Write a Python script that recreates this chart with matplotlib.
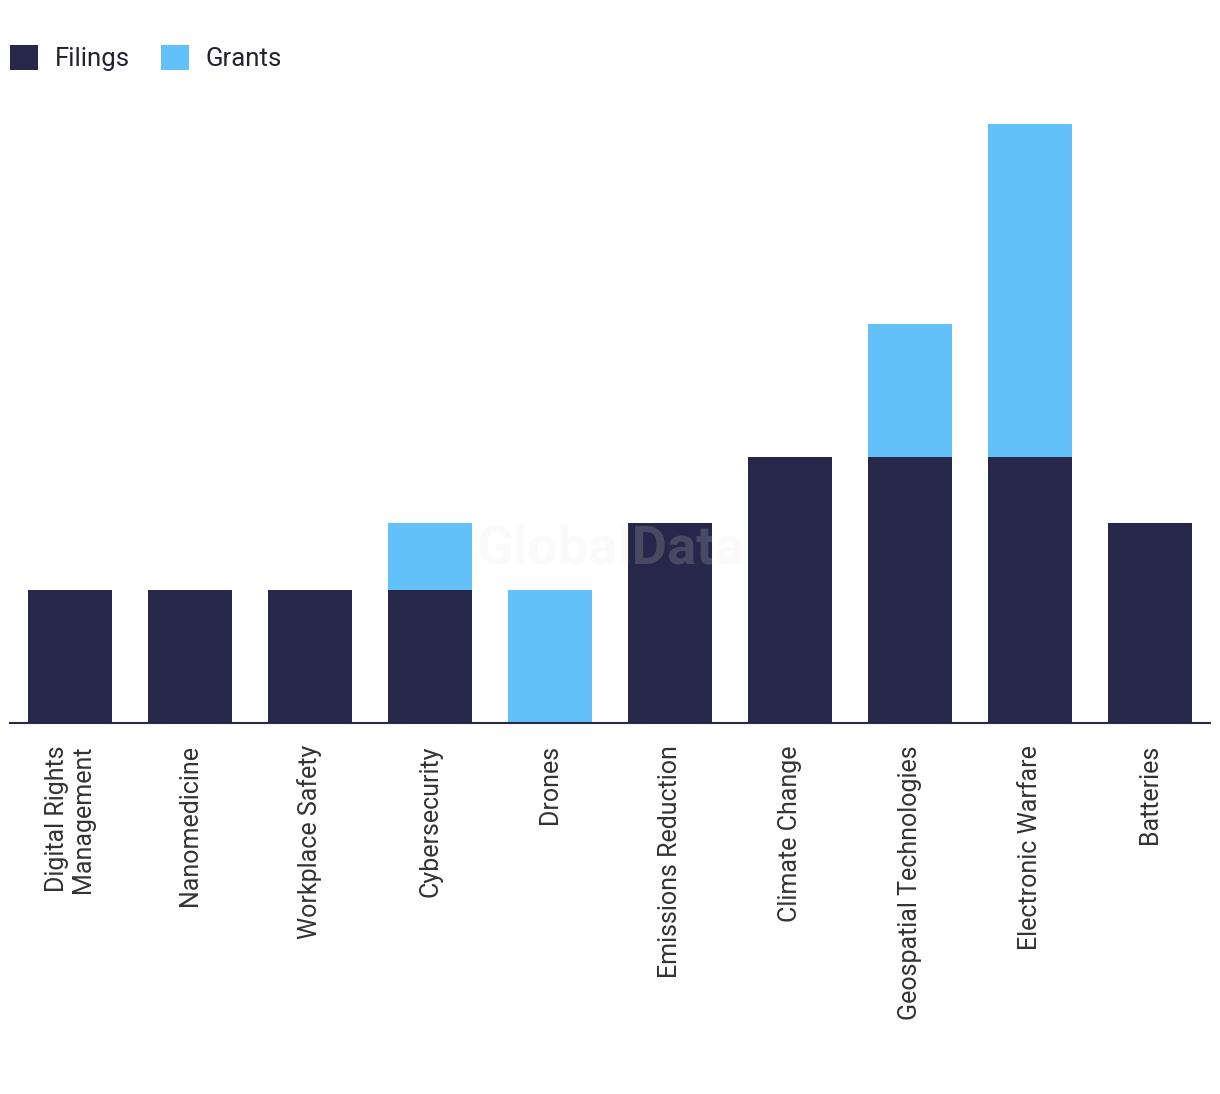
import numpy as np
import matplotlib.pyplot as plt

categories = ['Digital Rights\nManagement', 'Nanomedicine', 'Workplace Safety',
              'Cybersecurity', 'Drones', 'Emissions Reduction', 'Climate Change',
              'Geospatial Technologies', 'Electronic Warfare', 'Batteries']
filings = [2, 2, 2, 2, 0, 3, 4, 4, 4, 3]
grants = [0, 0, 0, 1, 2, 0, 0, 2, 5, 0]

navy = '#272849'
blue = '#62c1f9'

plt.rcParams['font.family'] = ['Roboto', 'DejaVu Sans']

W, H = 1220, 1094
fig = plt.figure(figsize=(W / 100, H / 100), dpi=100)
ax = fig.add_axes([10 / W, 1 - 723 / H, 1200 / W, (723 - 124) / H])

x = np.arange(len(categories))
b1 = ax.bar(x, filings, width=0.7, color=navy, label='Filings')
b2 = ax.bar(x, grants, width=0.7, bottom=filings, color=blue, label='Grants')

ax.set_xlim(-0.5, len(categories) - 0.5)
ax.set_ylim(0, 9)
ax.set_yticks([])
ax.set_xticks(x)
ax.set_xticklabels(categories, rotation=90, fontsize=18, color='#333333',
                   va='top', ha='center', multialignment='right',
                   linespacing=1.15)
ax.tick_params(axis='x', length=0, pad=16)
for s in ['top', 'right', 'left']:
    ax.spines[s].set_visible(False)
ax.spines['bottom'].set_color(navy)
ax.spines['bottom'].set_linewidth(1.5)

# watermark
ax.text(0.5, 0.29, 'GlobalData', transform=ax.transAxes, ha='center', va='center',
        fontsize=39, fontweight='bold', color='#e4e4e4', alpha=0.18, zorder=5)

fig.legend(handles=[b1, b2], loc='upper left', bbox_to_anchor=(10 / W, 1 - 45 / H),
           frameon=False, ncol=2, fontsize=18.5, handlelength=1.1, handleheight=1.1,
           handletextpad=0.65, columnspacing=1.2, borderpad=0, borderaxespad=0,
           labelcolor='#222233')

fig.savefig('out.png', dpi=100)
